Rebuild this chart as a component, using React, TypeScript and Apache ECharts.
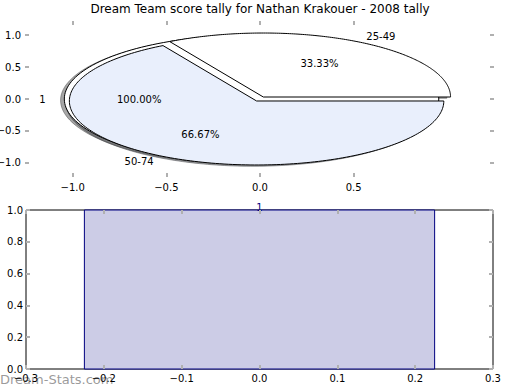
import React, { useEffect, useRef } from "react";
import * as echarts from "echarts";

// ---- data ----
const titleText = "Dream Team score tally for Nathan Krakouer - 2008 tally";
// background (single-slice) pie
const outerPieLabels = ["1"];
const outerPieValues = [1];
const outerPieExplode = [0.045];
const outerPieColors = ["#ffffff"];
// front pie
const innerPieLabels = ["25-49", "50-74"];
const innerPieValues = [1, 2];
const innerPieExplode = [0.036, 0.036];
const innerPieColors = ["#ffffff", "#e9effc"];
const pieXTicks = [-1.0, -0.5, 0.0, 0.5];
const pieYTicks = [-1.0, -0.5, 0.0, 0.5, 1.0];
// bar chart
const barPositions = [0];
const barValues = [1];
const barLabels = ["1"];
const barWidth = 0.45;

const FONT = "DejaVu Sans";
const TICK_COLOR = "#b0b0b0";

type Wedge = {
  cx: number; cy: number; t1: number; t2: number; mid: number;
  color: string; label: string; pct: number;
};

function buildWedges(values: number[], explode: number[], colors: string[], labels: string[]): Wedge[] {
  const total = values.reduce((a, b) => a + b, 0);
  let acc = 0;
  return values.map((v, i) => {
    const t1 = (acc / total) * 360;
    acc += v;
    const t2 = (acc / total) * 360;
    const mid = ((t1 + t2) / 2) * Math.PI / 180;
    const e = explode[i] || 0;
    return {
      cx: e * Math.cos(mid), cy: e * Math.sin(mid), t1, t2, mid: (t1 + t2) / 2,
      color: colors[i], label: labels[i], pct: (v / total) * 100,
    };
  });
}

const wedges: Wedge[] = [
  ...buildWedges(outerPieValues, outerPieExplode, outerPieColors, outerPieLabels),
  ...buildWedges(innerPieValues, innerPieExplode, innerPieColors, innerPieLabels),
];

const fmt = (v: number) => (v < 0 ? "\u2212" : "") + Math.abs(v).toFixed(1);

function wedgePoints(api: any, w: Wedge, dx: number, dy: number) {
  const pts: number[][] = [];
  const full = w.t2 - w.t1 >= 359.999;
  if (!full) pts.push(api.coord([w.cx + dx, w.cy + dy]));
  const N = 180;
  for (let k = 0; k <= N; k++) {
    const th = ((w.t1 + ((w.t2 - w.t1) * k) / N) * Math.PI) / 180;
    pts.push(api.coord([w.cx + dx + Math.cos(th), w.cy + dy + Math.sin(th)]));
  }
  return pts;
}

function shadowColor(hex: string) {
  const r = parseInt(hex.slice(1, 3), 16), g = parseInt(hex.slice(3, 5), 16), b = parseInt(hex.slice(5, 7), 16);
  return `rgba(${Math.round(r * 0.3)},${Math.round(g * 0.3)},${Math.round(b * 0.3)},0.5)`;
}

export default function App() {
  const ref = useRef<HTMLDivElement>(null);
  useEffect(() => {
    if (!ref.current) return;
    const chart = echarts.init(ref.current, null, { renderer: "svg" });
    const tickStyle = { show: true, inside: true, length: 4, lineStyle: { color: TICK_COLOR, width: 2 } };
    const hiddenLine = { show: true, onZero: false, lineStyle: { color: "rgba(0,0,0,0)", width: 0 } };
    const labelStyle = { color: "#000", fontSize: 10, fontFamily: FONT };
    const wedgeData = wedges.map((w, i) => [w.cx, w.cy, i]);

    chart.setOption({
      animation: false,
      backgroundColor: "#fff",
      title: {
        text: titleText, left: "center", top: 3, padding: 0,
        textStyle: { fontSize: 12, fontWeight: "normal", color: "#000", fontFamily: FONT },
      },
      grid: [
        { left: 25, top: 21, width: 469, height: 156, show: false, outerBoundsMode: "none", containLabel: false },
        {
          left: 26, top: 210, width: 467, height: 159, show: true, borderColor: "#000", borderWidth: 1,
          backgroundColor: "#fff", outerBoundsMode: "none", containLabel: false,
        },
      ],
      xAxis: [
        {
          type: "value", gridIndex: 0, min: -1.255, max: 1.25, position: "bottom", z: 10,
          axisLine: hiddenLine, splitLine: { show: false },
          axisTick: { ...tickStyle, customValues: pieXTicks },
          axisLabel: { ...labelStyle, margin: 5, customValues: pieXTicks, formatter: fmt },
        },
        {
          type: "value", gridIndex: 0, min: -1.255, max: 1.25, position: "top", z: 10,
          axisLine: hiddenLine, splitLine: { show: false },
          axisTick: { ...tickStyle, customValues: pieXTicks },
          axisLabel: { show: false },
        },
        {
          type: "value", gridIndex: 1, min: -0.3, max: 0.3, interval: 0.1, position: "bottom", z: 10,
          axisLine: hiddenLine, splitLine: { show: false },
          axisTick: tickStyle,
          axisLabel: { ...labelStyle, margin: 4, formatter: fmt },
        },
        {
          type: "value", gridIndex: 1, min: -0.3, max: 0.3, interval: 0.1, position: "top", z: 10,
          axisLine: hiddenLine, splitLine: { show: false },
          axisTick: tickStyle, axisLabel: { show: false },
        },
      ],
      yAxis: [
        {
          type: "value", gridIndex: 0, min: -1.219, max: 1.219, position: "left", z: 10,
          axisLine: hiddenLine, splitLine: { show: false },
          axisTick: { ...tickStyle, customValues: pieYTicks },
          axisLabel: { ...labelStyle, margin: 4, customValues: pieYTicks, formatter: fmt },
        },
        {
          type: "value", gridIndex: 0, min: -1.219, max: 1.219, position: "right", z: 10,
          axisLine: hiddenLine, splitLine: { show: false },
          axisTick: { ...tickStyle, customValues: pieYTicks },
          axisLabel: { show: false },
        },
        {
          type: "value", gridIndex: 1, min: 0, max: 1, interval: 0.2, position: "left", z: 10,
          axisLine: hiddenLine, splitLine: { show: false },
          axisTick: tickStyle,
          axisLabel: { ...labelStyle, margin: 3, formatter: fmt },
        },
        {
          type: "value", gridIndex: 1, min: 0, max: 1, interval: 0.2, position: "right", z: 10,
          axisLine: hiddenLine, splitLine: { show: false },
          axisTick: tickStyle, axisLabel: { show: false },
        },
      ],
      series: [
        {
          type: "custom", name: "shadows", xAxisIndex: 0, yAxisIndex: 0, z: 1,
          data: wedgeData, encode: { x: 0, y: 1 },
          renderItem: (params: any, api: any) => {
            const w = wedges[params.dataIndex];
            return {
              type: "polygon",
              shape: { points: wedgePoints(api, w, -0.02, -0.02) },
              style: { fill: shadowColor(w.color), stroke: shadowColor(w.color), lineWidth: 1 },
            };
          },
        },
        {
          type: "custom", name: "wedges", xAxisIndex: 0, yAxisIndex: 0, z: 2,
          data: wedgeData, encode: { x: 0, y: 1 },
          renderItem: (params: any, api: any) => {
            const w = wedges[params.dataIndex];
            return {
              type: "polygon",
              shape: { points: wedgePoints(api, w, 0, 0) },
              style: { fill: w.color, stroke: "#000", lineWidth: 1, lineJoin: "miter" },
            };
          },
        },
        {
          type: "custom", name: "pieLabels", xAxisIndex: 0, yAxisIndex: 0, z: 3,
          data: wedgeData, encode: { x: 0, y: 1 },
          renderItem: (params: any, api: any) => {
            const w = wedges[params.dataIndex];
            const th = (w.mid * Math.PI) / 180;
            const lp = api.coord([w.cx + 1.1 * Math.cos(th), w.cy + 1.1 * Math.sin(th)]);
            const pp = api.coord([w.cx + 0.6 * Math.cos(th), w.cy + 0.6 * Math.sin(th)]);
            return {
              type: "group",
              children: [
                {
                  type: "text", x: lp[0], y: lp[1],
                  style: {
                    text: w.label, fill: "#000", fontSize: 10, fontFamily: FONT,
                    align: Math.cos(th) > 0 ? "left" : "right", verticalAlign: "middle",
                  },
                },
                {
                  type: "text", x: pp[0], y: pp[1],
                  style: {
                    text: w.pct.toFixed(2) + "%", fill: "#000", fontSize: 10, fontFamily: FONT,
                    align: "center", verticalAlign: "middle",
                  },
                },
              ],
            };
          },
        },
        {
          type: "custom", name: "bars", xAxisIndex: 2, yAxisIndex: 2, z: 2,
          data: barPositions.map((p, i) => [p, barValues[i], i]), encode: { x: 0, y: 1 },
          renderItem: (params: any, api: any) => {
            const i = params.dataIndex;
            const x = barPositions[i];
            const v = barValues[i];
            const a = api.coord([x - barWidth / 2, v]);
            const b = api.coord([x + barWidth / 2, 0]);
            const t = api.coord([x, v]);
            return {
              type: "group",
              children: [
                {
                  type: "rect",
                  shape: { x: a[0], y: a[1], width: b[0] - a[0], height: b[1] - a[1] },
                  style: { fill: "#ccccE6", stroke: "#000080", lineWidth: 1 },
                },
                {
                  type: "text", x: t[0], y: t[1] + 2,
                  style: {
                    text: barLabels[i], fill: "#000080", fontSize: 10, fontFamily: FONT,
                    align: "center", verticalAlign: "bottom",
                  },
                },
              ],
            };
          },
        },
      ],
      graphic: [
        {
          type: "text", left: 0, top: 373, z: -1,
          style: { text: "Dream-Stats.com", fill: "rgba(110,110,110,0.7)", fontSize: 13, fontFamily: FONT },
        },
      ],
    });
    return () => chart.dispose();
  }, []);
  return <div ref={ref} style={{ position: "fixed", left: 0, top: 0, width: 520, height: 390 }} />;
}
